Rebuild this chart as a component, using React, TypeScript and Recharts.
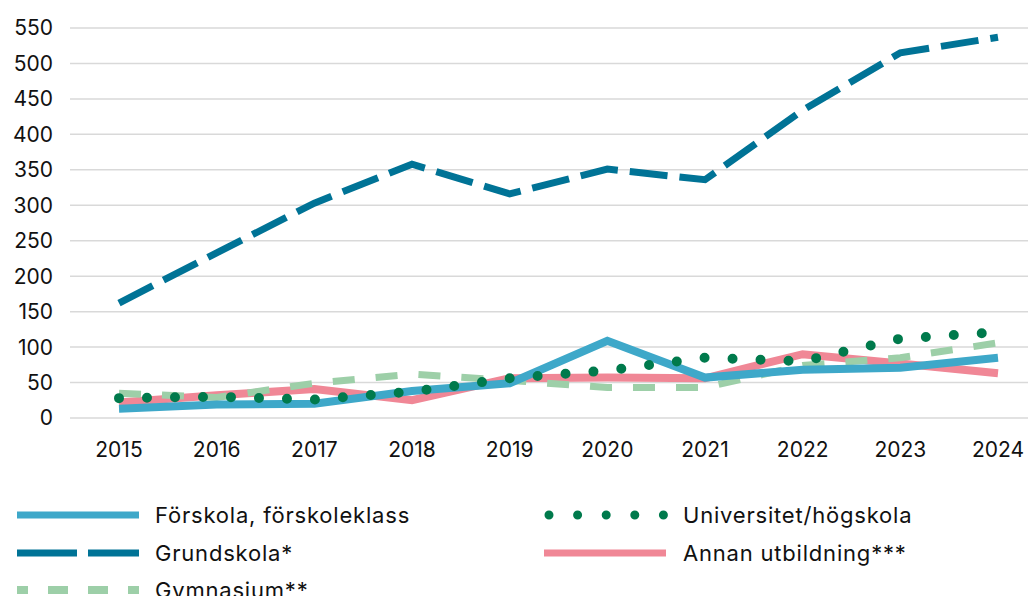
import React from 'react';
import { LineChart, Line, XAxis, YAxis, CartesianGrid } from 'recharts';

const years = ['2015', '2016', '2017', '2018', '2019', '2020', '2021', '2022', '2023', '2024'];
const forskola = [13, 19, 20, 38, 49, 109, 57, 68, 71, 85];
const grundskola = [162, 233, 303, 358, 316, 351, 336, 434, 515, 537];
const gymnasium = [35, 29, 49, 62, 53, 43, 43, 74, 85, 106];
const universitet = [28, 30, 26, 37, 56, 67, 85, 80, 112, 121];
const annan = [22, 32, 41, 25, 56, 57, 56, 90, 77, 63];
const yTicks = [0, 50, 100, 150, 200, 250, 300, 350, 400, 450, 500, 550];

const FONT = 'Inter, "Liberation Sans", Arial, sans-serif';

const data = years.map((year, i) => ({
  year,
  forskola: forskola[i],
  grundskola: grundskola[i],
  gymnasium: gymnasium[i],
  universitet: universitet[i],
  annan: annan[i],
}));

const legendItems = [
  { label: 'Förskola, förskoleklass', color: '#3ea8c9', kind: 'solid', col: 0, row: 0 },
  { label: 'Grundskola*', color: '#007396', kind: 'longdash', col: 0, row: 1 },
  { label: 'Gymnasium**', color: '#9dcfa8', kind: 'dash', col: 0, row: 2 },
  { label: 'Universitet/högskola', color: '#007a4c', kind: 'dot', col: 1, row: 0 },
  { label: 'Annan utbildning***', color: '#f08796', kind: 'solid', col: 1, row: 1 },
];

const LegendIcon = ({ kind, color }: { kind: string; color: string }) => {
  if (kind === 'dot') {
    return (
      <svg width={124} height={12} style={{ display: 'block' }}>
        <line x1={5} y1={6} x2={121} y2={6} stroke={color} strokeWidth={9} strokeLinecap="round" strokeDasharray="0 28.6" />
      </svg>
    );
  }
  let dash: string | undefined;
  let offset = 0;
  if (kind === 'longdash') dash = '60 11';
  if (kind === 'dash') {
    dash = '20 20';
    offset = 9;
  }
  return (
    <svg width={124} height={12} style={{ display: 'block' }}>
      <line x1={0} y1={6} x2={122} y2={6} stroke={color} strokeWidth={kind === 'dash' ? 8 : 7} strokeDasharray={dash} strokeDashoffset={offset} />
    </svg>
  );
};

const ChartLegend = () => (
  <div style={{ position: 'absolute', left: 0, top: 500, width: 1036, height: 110, fontFamily: FONT, fontSize: 22, letterSpacing: 0.8, color: '#111' }}>
    {legendItems.map((it) => (
      <div
        key={it.label}
        style={{
          position: 'absolute',
          left: it.col === 0 ? 17 : 544,
          top: it.row * 37.5,
          display: 'flex',
          alignItems: 'center',
          height: 30,
          whiteSpace: 'nowrap',
        }}
      >
        <LegendIcon kind={it.kind} color={it.color} />
        <span style={{ marginLeft: it.col === 0 ? 14 : 15 }}>{it.label}</span>
      </div>
    ))}
  </div>
);

export default function App() {
  return (
    <div style={{ margin: -8, width: 1036, height: 604, overflow: 'hidden', background: '#fff', position: 'relative' }}>
      <LineChart width={1060} height={500} data={data} margin={{ top: 28, right: 13, left: 0, bottom: 22 }}>
        <CartesianGrid vertical={false} stroke="#d9d9d9" strokeWidth={1.5} />
        <XAxis
          dataKey="year"
          axisLine={false}
          tickLine={false}
          padding={{ left: 49, right: 49 }}
          tick={{ fill: '#111', fontSize: 21, fontFamily: FONT }}
          tickMargin={18}
          height={60}
        />
        <YAxis
          domain={[0, 550]}
          ticks={yTicks}
          interval={0}
          axisLine={false}
          tickLine={false}
          width={70}
          tickMargin={11}
          tick={{ fill: '#111', fontSize: 21, fontFamily: FONT }}
        />
        <Line dataKey="annan" stroke="#f08796" strokeWidth={8} dot={false} isAnimationActive={false} />
        <Line dataKey="gymnasium" stroke="#9dcfa8" strokeWidth={7} strokeDasharray="22 21" dot={false} isAnimationActive={false} />
        <Line dataKey="forskola" stroke="#3ea8c9" strokeWidth={8} dot={false} isAnimationActive={false} />
        <Line dataKey="grundskola" stroke="#007396" strokeWidth={7} strokeDasharray="38 12" dot={false} isAnimationActive={false} />
        <Line
          dataKey="universitet"
          stroke="#007a4c"
          strokeWidth={10}
          strokeLinecap="round"
          strokeDasharray="0 28"
          dot={false}
          isAnimationActive={false}
        />
      </LineChart>
      <ChartLegend />
    </div>
  );
}
